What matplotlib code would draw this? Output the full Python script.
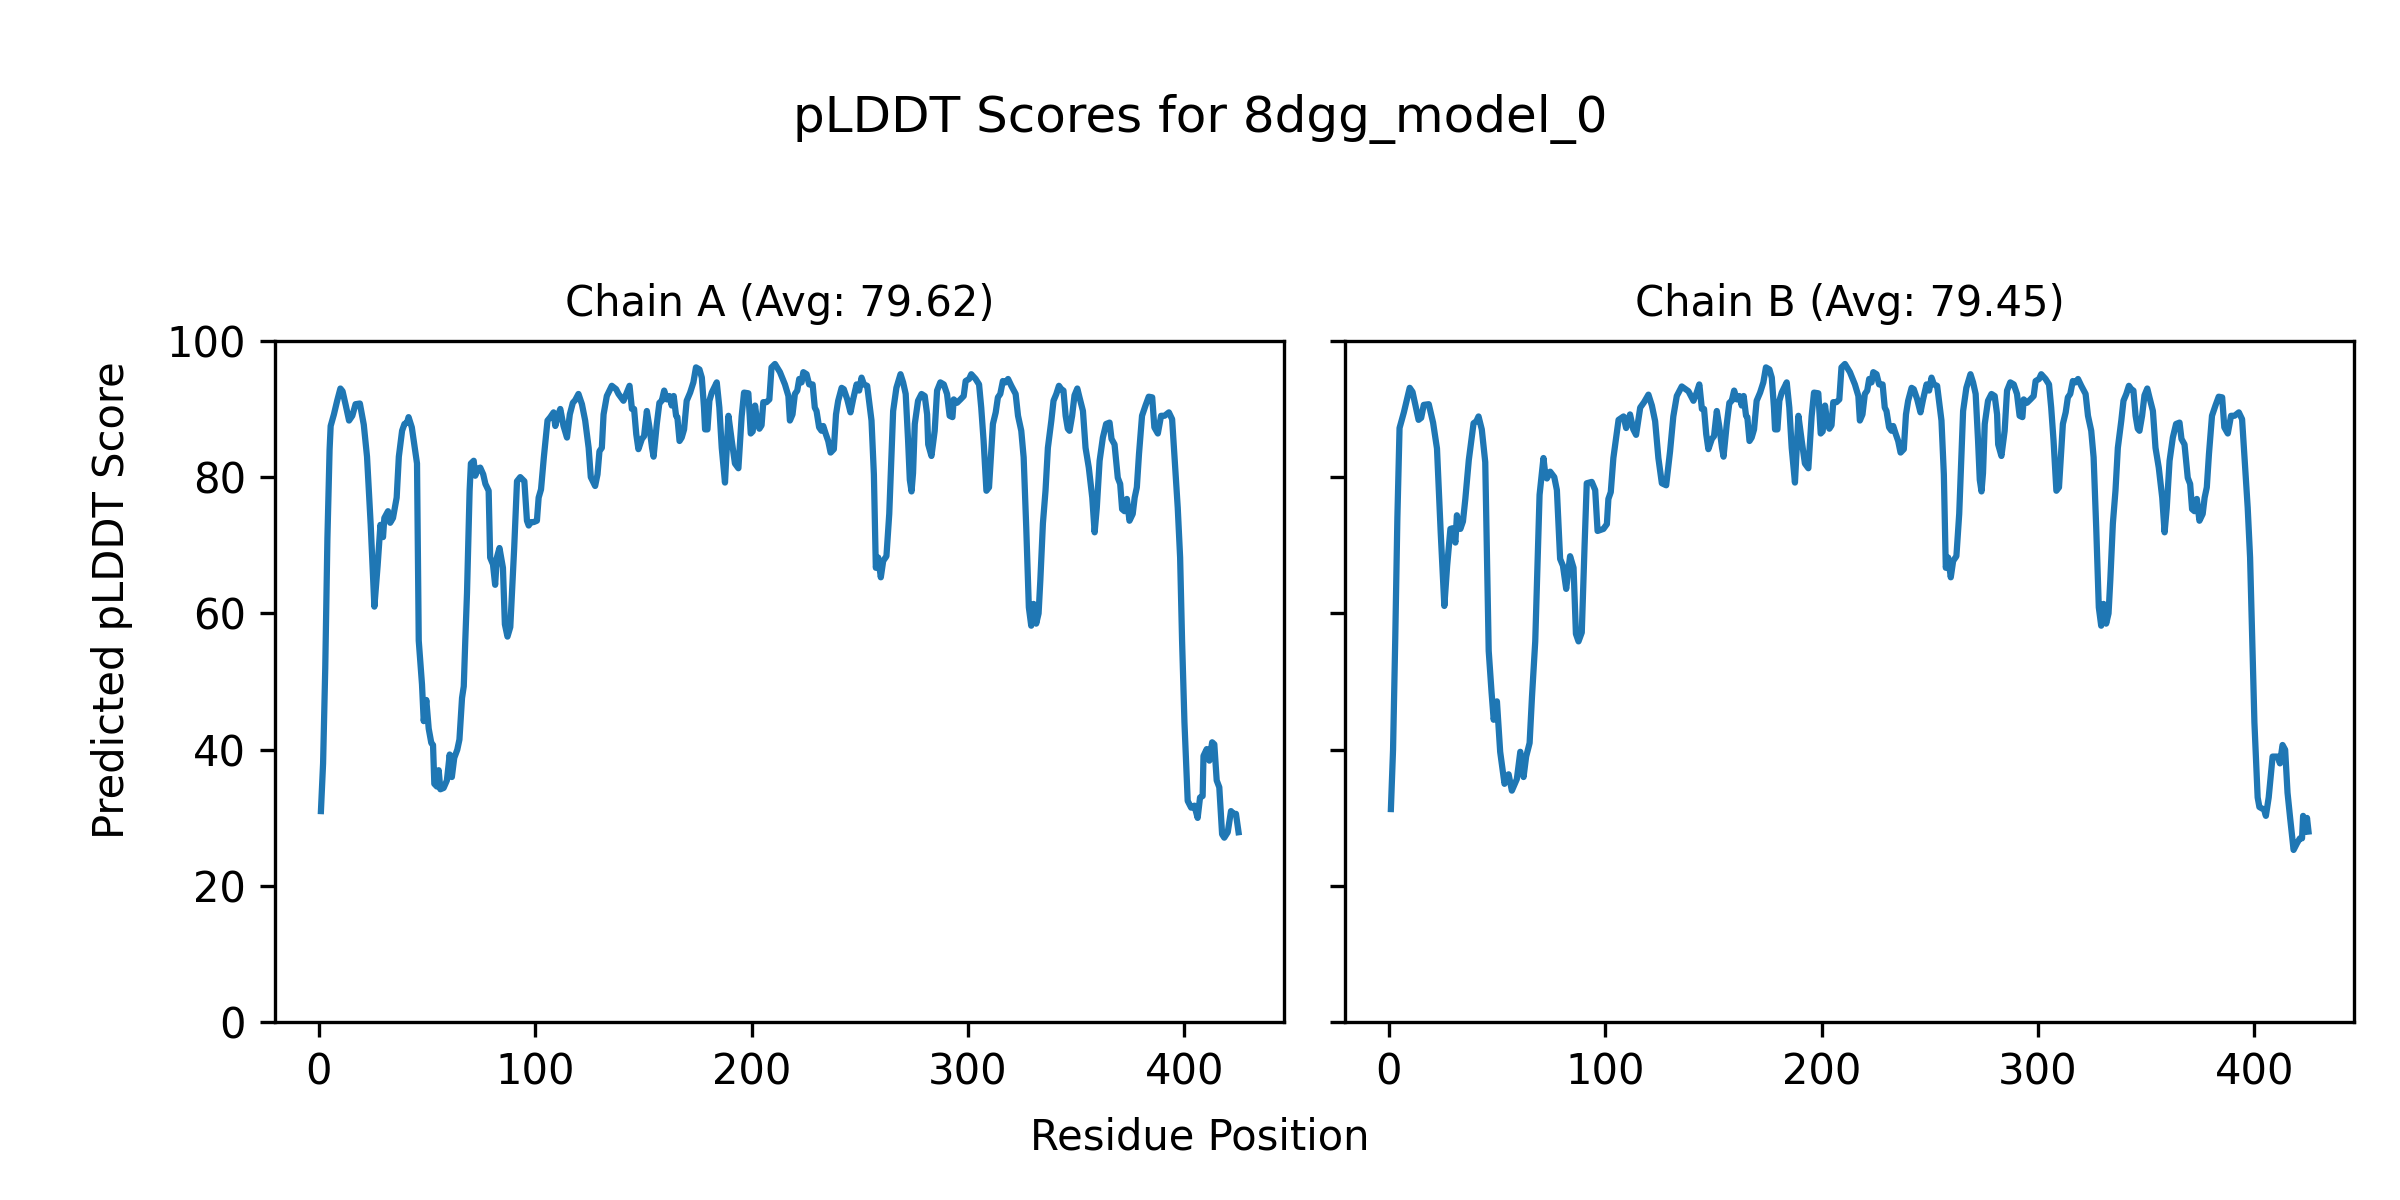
import matplotlib
matplotlib.use("Agg")
import matplotlib.pyplot as plt

# residue positions / pLDDT values, chain A
a_pos = [1, 2, 3, 4, 5, 5.5, 7, 8.5, 10, 11, 12.5, 14, 15.5, 17, 19, 20.8, 22.3, 24, 25.7, 27.2,
         28.5, 29.7, 30.3, 32, 33, 34.3, 36, 37, 38.5, 39.6, 40.8, 41.5, 43, 44.6, 45.4, 46.2, 47.7, 48.5, 49.7, 50.8,
         52, 52.8, 53.4, 54.6, 55.4, 56.2, 57.7, 59.2, 60.5, 61.5, 62.6, 64, 65, 66.2, 67, 67.7, 68.5, 69.7, 70.3, 71.6,
         72.3, 73.4, 74.6, 76, 77, 78.5, 79.2, 80.5, 81.5, 82.3, 83.5, 85.1, 86, 87.2, 88.5, 90.3, 91.6, 93.1, 95, 96.2,
         97, 98, 99.3, 100.8, 101.6, 102.7, 104, 105.7, 107, 108.5, 109.3, 110.3, 111.6, 113.1, 114.7, 116, 117.4, 118.5, 120, 121.6,
         123.1, 124.7, 125.7, 127.7, 128.8, 129.7, 130.8, 131.6, 133.1, 135.4, 137.4, 138.5, 140.8, 142.3, 143.6, 144.7, 145.7, 146.7, 147.7, 149.3,
         150.3, 151.6, 152.8, 154, 154.7, 156.2, 157.4, 158.5, 159.6, 160.8, 162, 163.1, 164, 165.1, 165.7, 166.7, 167.7, 168.8, 170, 171.6,
         173.1, 174.3, 175.9, 177, 178, 178.5, 179.6, 180.5, 181.6, 183.9, 185.1, 186.2, 187.7, 189.3, 190.8, 192.3, 193.9, 195.4, 196.5, 198.5,
         199.6, 200.5, 201.6, 202.3, 203.6, 204.6, 205.4, 206.9, 208.2, 209.2, 210.8, 213.1, 215.4, 217, 217.7, 218.9, 220, 221.1, 222, 223.1,
         223.9, 225.4, 226.6, 228.2, 229.2, 230, 231.2, 232.3, 233.1, 234.3, 235.4, 236.5, 238, 239, 240, 241.6, 242.6, 244.2, 245.7, 246.9,
         248.5, 249.7, 250.8, 251.9, 253.4, 255.4, 256.5, 257.4, 258.5, 259.7, 260.8, 262.3, 263.6, 264.6, 265.4, 266.9, 268.8, 270, 271.2, 272.3,
         273.1, 273.9, 274.6, 275.4, 276.9, 278.5, 280, 281.1, 281.6, 283.1, 284.6, 285.7, 287.2, 288.8, 290.3, 291.5, 292.8, 293.4, 294.9, 296.5,
         298, 298.9, 300.5, 301.5, 303.5, 305.1, 306.1, 307.2, 308.5, 309.7, 310.8, 311.5, 312.8, 313.8, 314.9, 316.1, 317.4, 318.5, 320, 322,
         323.1, 324.6, 325.7, 326.9, 328.1, 329.2, 330.3, 331.5, 332.6, 333.4, 334.6, 335.8, 336.9, 338.5, 339.5, 340.8, 342, 343.1, 344.1, 345.1,
         346.1, 346.9, 348.1, 349.2, 350.5, 351.5, 353.1, 354.3, 355.8, 357.4, 358.5, 359.5, 360.8, 362.3, 363.8, 365.4, 366.3, 367.7, 369.2, 370.3,
         371.2, 372.3, 373.4, 374.6, 376.1, 377, 378, 379, 380.4, 382, 383.5, 385.1, 386.1, 387.7, 389.2, 390.8, 392.8, 394.3, 395.4, 396.9,
         398, 398.9, 400, 401.5, 403.1, 404.6, 406.1, 407.2, 408.4, 408.8, 410.3, 411.5, 412.8, 413.8, 414.9, 416.1, 417.4, 418.4, 420, 421.5,
         422.6, 423.8, 425]
a_score = [31, 38, 52, 71, 84, 87.5, 89.2, 91.2, 93, 92.6, 90.5, 88.3, 89, 90.7, 90.8, 87.7, 83, 73, 61, 67,
           73, 71.2, 74, 75, 73.3, 74, 77, 83, 86.8, 87.8, 88, 88.8, 87.3, 83.8, 82, 56, 49.6, 44.2, 47.3, 43.1,
           41, 40.7, 35, 34.6, 37, 34.2, 34.4, 35.5, 39.3, 36, 38.8, 40, 41.5, 47.6, 49.3, 56, 63, 78, 82, 82.4,
           80.2, 81.2, 81.4, 80.4, 79, 78, 68.2, 67.2, 64.2, 68.2, 69.6, 66.7, 58.4, 56.6, 58, 69.6, 79.4, 80, 79.4, 73.6,
           72.9, 73.4, 73.4, 73.6, 77, 78.2, 82.9, 88.3, 88.8, 89.5, 87.5, 88.8, 90, 87.5, 85.8, 89.2, 90.9, 91.3, 92.2, 90.7,
           88.3, 84.3, 80, 78.7, 80.4, 83.8, 84.3, 89.2, 91.9, 93.4, 92.9, 92.2, 91.2, 92.4, 93.4, 90, 90, 86.3, 84.1, 85.6,
           86, 89.7, 87.3, 84.3, 83, 87.8, 90.9, 91.2, 92.7, 91.4, 91.9, 90.5, 91.9, 89, 88.8, 85.3, 85.8, 87, 91.2, 92.4,
           93.9, 96.1, 95.8, 94.6, 90.2, 87, 87, 91.2, 92.4, 93.9, 90.2, 84.3, 79.2, 89, 85.4, 82, 81.3, 88.9, 92.4, 92.3,
           86.4, 86.7, 90.5, 88.8, 87.1, 87.6, 91, 91, 91.4, 96.1, 96.6, 95.4, 93.6, 91.9, 88.3, 89.2, 92.2, 92.7, 94.4, 93.9,
           95.4, 95.1, 93.6, 93.6, 90.2, 89.7, 87.3, 86.8, 87.5, 86.3, 85.3, 83.6, 84.1, 89.2, 91.2, 93.1, 92.9, 91.4, 89.5, 91.4,
           93.6, 92.7, 94.6, 93.6, 93.4, 88.3, 80.4, 66.7, 68.2, 65.3, 67.7, 68.4, 74.6, 82.9, 89.7, 93.1, 95.1, 93.9, 92.2, 85.4,
           79.6, 77.9, 80.6, 87.8, 91.2, 92.2, 91.9, 89.2, 84.8, 83.1, 86.8, 92.7, 93.9, 93.6, 92.2, 89, 88.8, 91.4, 90.9, 91.4,
           91.9, 94.1, 94.4, 95.1, 94.4, 93.6, 90.2, 85.3, 78, 78.5, 84.3, 87.8, 89.5, 91.7, 92.2, 94.1, 93.9, 94.4, 93.4, 92.2,
           89, 86.8, 82.9, 72.6, 60.9, 58.2, 61.4, 58.5, 60, 64.8, 73.2, 78, 84.3, 88.3, 91.2, 92.2, 93.4, 92.9, 92.7, 89,
           87.1, 86.8, 89, 92, 93, 91.7, 89.7, 84.3, 81.4, 77, 71.9, 75.5, 82.4, 85.8, 87.8, 88, 85.6, 84.8, 79.9, 79,
           75.3, 75, 76.8, 73.6, 74.6, 77, 78.5, 83.4, 89, 90.5, 91.8, 91.7, 87.3, 86.4, 89, 89, 89.5, 88.5, 82.9, 75.5,
           68.2, 56, 44, 32.5, 31.5, 31.8, 30, 33, 33.2, 39.1, 40.1, 38.4, 41.1, 40.8, 35.5, 34.5, 27.6, 27.1, 27.9, 31,
           30.6, 30.6, 27.9]

# chain B, first part read separately, middle part nearly identical to A, own tail
b_head_pos = [1, 2, 3, 4, 5, 7, 8.5, 9.7, 11, 12.5, 13.8, 15, 16.2, 18.5, 20.5, 22.3, 24, 25.7, 27, 28.5,
              29.5, 30.8, 31.5, 33.1, 34.3, 35.4, 37, 39.2, 40.5, 41.5, 43, 44.6, 46.2, 47.5, 48.5, 50, 51.5, 53.5, 55.4, 56.9,
              59.2, 60.8, 62.3, 63.5, 65.1, 66.2, 67.7, 69, 69.7, 71.5, 72.5, 73.1, 74.6, 76.5, 77.7, 79.2, 80.5, 82, 83.8, 85.4,
              86.5, 87.7, 89.2, 90.5, 91.5, 93.8, 95.4, 96.5, 99.2, 100.8, 101.5, 102.6, 103.8, 106.2, 108.5, 109.7, 111.5, 113, 114.3, 116.2,
              118, 120, 121.6, 123.1, 124.6, 126.2, 128.2, 130, 131.5, 133.1, 135.4, 138.5, 140.8, 142.3, 143.5]
b_head_score = [31.3, 40, 56, 74, 87.2, 89.5, 91.5, 93.1, 92.5, 90.3, 88.4, 88.7, 90.6, 90.7, 88, 84.2, 72, 61.1, 67, 72.4,
                72.5, 70.4, 74.4, 72.4, 73.5, 76.8, 82.5, 87.9, 88.2, 88.9, 87, 82.2, 54.5, 48.5, 44.4, 47.1, 39.7, 35, 36.4, 34,
                35.7, 39.7, 36, 39, 41, 47.8, 55.9, 70, 77.4, 82.8, 80, 79.8, 80.8, 80, 78.1, 68, 67, 63.6, 68.4, 66.7,
                57, 55.9, 57.2, 70, 79.1, 79.3, 78.1, 72.1, 72.4, 73.1, 76.8, 77.8, 82.8, 88.4, 88.9, 87.2, 89.2, 87, 86.2, 90.2,
                91, 92.1, 90.5, 88.2, 82.8, 79.1, 78.8, 83.8, 88.9, 91.9, 93.3, 92.6, 91.2, 92.4, 93.6]
b_tail_pos = [395.4, 396.9, 398, 399, 400, 401.5, 402.3, 404.5, 405.3, 406.6, 408.4, 410.7, 411.8, 413, 414.2, 415.3, 416.5,
              418.1, 419.7, 421, 422, 422.5, 423.5, 424.3, 425]
b_tail_score = [82.9, 75.5, 68.2, 56, 44, 33, 31.6, 31.2, 30.3, 33, 39, 39, 38, 40.7, 40, 33.7, 30,
                25.3, 26.3, 27, 27, 30.3, 28, 30, 28]

b_mid = [(p, s) for p, s in zip(a_pos, a_score) if b_head_pos[-1] < p < b_tail_pos[0]]
b_pos = b_head_pos + [p for p, s in b_mid] + b_tail_pos
b_score = b_head_score + [s for p, s in b_mid] + b_tail_score

titles = ['Chain A (Avg: 79.62)', 'Chain B (Avg: 79.45)']

fig, axes = plt.subplots(1, 2, figsize=(8, 4), dpi=300, sharey=True)
fig.subplots_adjust(left=0.1146, right=0.981, bottom=0.148, top=0.716, wspace=0.06)

for ax, x, y, t in zip(axes, [a_pos, b_pos], [a_score, b_score], titles):
    ax.plot(x, y, color='#1f77b4')
    ax.set_title(t, fontsize=10)
    ax.set_ylim(0, 100)

fig.text(0.0467, 0.5, 'Predicted pLDDT Score', ha='center', va='center', rotation=90, fontsize=10)
fig.text(0.5, 0.0525, 'Residue Position', ha='center', va='center', fontsize=10)
fig.text(0.5, 0.901, 'pLDDT Scores for 8dgg_model_0', ha='center', va='center', fontsize=12)

fig.savefig('out.png', dpi=300)
